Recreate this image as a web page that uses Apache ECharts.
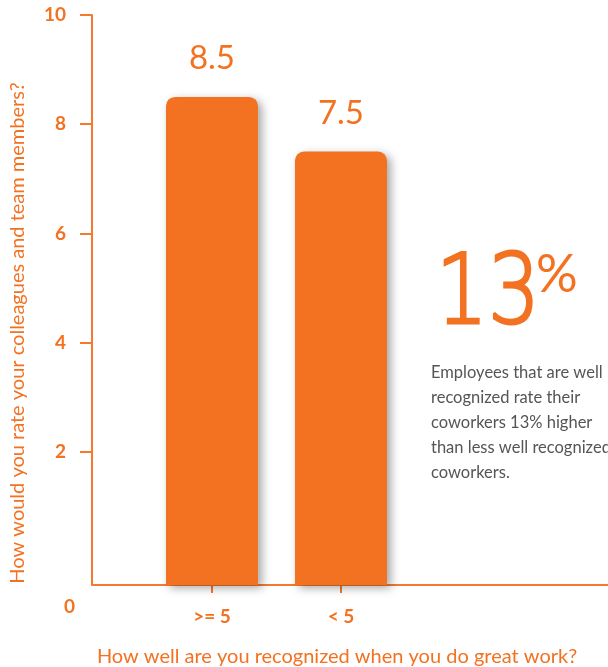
<!DOCTYPE html>
<html>
<head>
<meta charset="utf-8">
<style>
  html, body { margin: 0; padding: 0; background: #fff; }
  #chart { width: 608px; height: 667px; }
</style>
<script src="https://cdn.jsdelivr.net/npm/echarts@6/dist/echarts.min.js"></script>
</head>
<body>
<div id="chart"></div>
<script>
// Recognition survey: average colleague rating by recognition group
const categories = ['>= 5', '< 5'];
const ratings = [8.5, 7.5];
const yTicks = [2, 4, 6, 8, 10];
const zeroLabel = '0';
const yAxisTitle = 'How would you rate your colleagues and team members?';
const xAxisTitle = 'How well are you recognized when you do great work?';
const headline = '13';
const headlineUnit = '%';
const noteLines = [
  'Employees that are well',
  'recognized rate their',
  'coworkers 13% higher',
  'than less well recognized',
  'coworkers.'
];

const ORANGE = '#F37221';
const AXIS = '#F47B2E';
const FONT = 'Lato, "Noto Sans", sans-serif';
const Y_MIN = -0.44;   // axis runs a little below zero; bars grow from the axis line
const BAR_W = 92;

const chart = echarts.init(document.getElementById('chart'));

chart.setOption({
  animation: false,
  grid: { left: 92, right: 0, top: 15, bottom: 82, outerBoundsMode: 'none', containLabel: false },
  xAxis: {
    type: 'value',
    min: 0.07,
    max: 4.07,
    name: xAxisTitle,
    nameLocation: 'middle',
    nameGap: 62,
    nameTextStyle: { color: ORANGE, fontFamily: FONT, fontSize: 20, padding: [0, 26, 0, 0] },
    axisLine: { show: true, onZero: false, lineStyle: { color: AXIS, width: 2 } },
    axisTick: {
      show: true, customValues: categories.map((c, i) => i + 1),
      length: 8, lineStyle: { color: AXIS, width: 2 }
    },
    axisLabel: {
      customValues: categories.map((c, i) => i + 1),
      formatter: v => categories[Math.round(v) - 1] || '',
      color: ORANGE, fontFamily: FONT, fontWeight: 'bold', fontSize: 19, margin: 22
    },
    splitLine: { show: false }
  },
  yAxis: {
    type: 'value',
    min: Y_MIN,
    max: 10,
    name: yAxisTitle,
    nameLocation: 'middle',
    nameRotate: 90,
    nameGap: 64,
    nameTextStyle: { color: ORANGE, fontFamily: FONT, fontSize: 20, padding: [0, 66, 0, 0] },
    axisLine: { show: true, onZero: false, lineStyle: { color: AXIS, width: 2 } },
    axisTick: { show: true, customValues: yTicks, length: 12, lineStyle: { color: AXIS, width: 2 } },
    axisLabel: {
      customValues: yTicks,
      color: ORANGE, fontFamily: FONT, fontWeight: 'bold', fontSize: 19, margin: 26
    },
    splitLine: { show: false }
  },
  series: [{
    type: 'custom',
    data: ratings.map((v, i) => [i + 1, v]),
    encode: { x: 0, y: 1 },
    renderItem: (params, api) => {
      const x = api.value(0);
      const v = api.value(1);
      const base = api.coord([x, Y_MIN]);
      const top = api.coord([x, v]);
      return {
        type: 'rect',
        shape: {
          x: top[0] - BAR_W / 2, y: top[1],
          width: BAR_W, height: base[1] - top[1],
          r: [9, 9, 0, 0]
        },
        style: {
          fill: ORANGE,
          shadowColor: 'rgba(0,0,0,0.35)',
          shadowBlur: 10,
          shadowOffsetX: 4,
          shadowOffsetY: 3
        },
        textContent: {
          style: {
            text: v.toFixed(1),
            fill: ORANGE,
            font: 'normal 33px ' + FONT
          }
        },
        textConfig: { position: 'top', distance: 22 }
      };
    }
  }],
  graphic: [
    {
      type: 'text', left: 64, top: 597,
      style: { text: zeroLabel, fill: ORANGE, font: 'bold 19px ' + FONT }
    },
    {
      type: 'text', x: 436, y: 250, scaleX: 0.85,
      style: {
        text: headline, fill: ORANGE, stroke: ORANGE, lineWidth: 3,
        font: '200 96px "DejaVu Sans", ' + FONT
      }
    },
    {
      type: 'text', x: 536, y: 249,
      style: { text: headlineUnit, fill: ORANGE, font: 'normal 52px ' + FONT }
    },
    {
      type: 'text', left: 431, top: 360,
      style: {
        text: noteLines.join('\n'), fill: '#555555',
        font: '16.5px ' + FONT, lineHeight: 25
      }
    }
  ]
});
</script>
</body>
</html>
